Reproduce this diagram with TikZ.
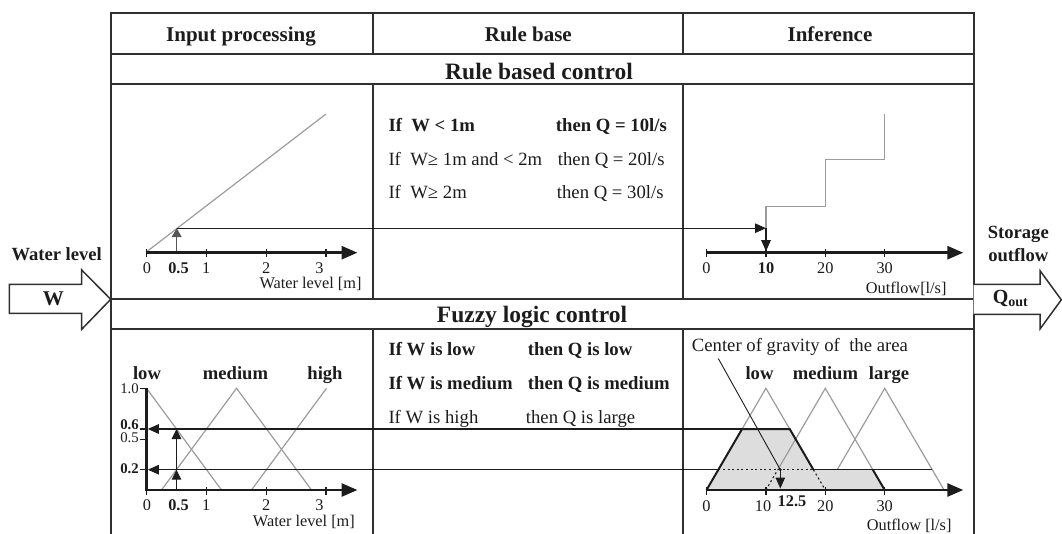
\documentclass[tikz,border=0pt]{standalone}
\usepackage{fontspec}
\setmainfont{Liberation Serif}
\usetikzlibrary{arrows.meta}
\definecolor{ink}{HTML}{1C1C1C}
\definecolor{tblc}{HTML}{303030}
\definecolor{curve}{HTML}{9C9C9C}
\definecolor{fillg}{HTML}{DDDDDD}
\definecolor{darkg}{HTML}{555555}
\tikzset{
  tbl/.style={draw=tblc,line width=1.6pt},
  axisline/.style={draw=ink,line width=2.8pt,-{Triangle[length=16pt,width=13pt]}},
  yaxisline/.style={draw=ink,line width=2.6pt},
  tickmark/.style={draw=ink,line width=1.4pt},
  memb/.style={draw=curve,line width=1.2pt},
  conn/.style={draw=ink,line width=1.1pt},
  connarrow/.style={conn,-{Triangle[length=11pt,width=9.5pt]}},
  dots/.style={draw=ink,line width=1.1pt,dash pattern=on 2pt off 2.6pt},
  txt/.style={inner sep=0pt,text=ink,anchor=base},
  hdr/.style={txt,font=\fontsize{21}{24}\selectfont\bfseries},
  bandtxt/.style={txt,font=\fontsize{23.5}{27}\selectfont\bfseries},
  ruletxt/.style={txt,anchor=base west,font=\fontsize{18.7}{22}\selectfont},
  ruletxtb/.style={ruletxt,font=\fontsize{18.7}{22}\selectfont\bfseries},
  ticklab/.style={txt,font=\fontsize{16.3}{19}\selectfont},
  ticklabb/.style={ticklab,font=\fontsize{16.3}{19}\selectfont\bfseries},
  ylab/.style={txt,anchor=base east,font=\fontsize{14.8}{17}\selectfont},
  ylabb/.style={ylab,font=\fontsize{14.8}{17}\selectfont\bfseries},
  setlab/.style={txt,font=\fontsize{18.6}{21}\selectfont\bfseries},
  bigarrow/.style={draw=tblc,line width=1.5pt,fill=white,line join=miter},
}
\begin{document}
\begin{tikzpicture}[x=1pt,y=-1pt]
\useasboundingbox (0,0) rectangle (1062,534);
% ---------------- table ----------------
\draw[tbl] (111,534) -- (111,13.3) -- (973.7,13.3) -- (973.7,534);
\foreach \yy in {54.3,84.3,299.3,329.3} \draw[tbl] (111,\yy) -- (973.7,\yy);
\foreach \xx in {373,682.7} {
  \draw[tbl] (\xx,13.3) -- (\xx,54.3);
  \draw[tbl] (\xx,84.3) -- (\xx,299.3);
  \draw[tbl] (\xx,329.3) -- (\xx,534);
}
\node[hdr] (h1) at (241,41.5) {Input processing};
\node[hdr] (h2) at (528.3,41.5) {Rule base};
\node[hdr] (h3) at (830,41.5) {Inference};
\node[bandtxt] (b1) at (539,79.5) {Rule based control};
\node[bandtxt] (b2) at (532,322.7) {Fuzzy logic control};
% ---------------- in/out arrows ----------------
\draw[bigarrow] (9.3,284.3) -- (81.7,284.3) -- (81.7,270) -- (110.7,299.3) -- (81.7,329.3) -- (81.7,313.3) -- (9.3,313.3) -- cycle;
\node[setlab] (wl) at (56.7,260.7) {Water level};
\node[txt,font=\fontsize{21}{24}\selectfont\bfseries] (win) at (53.3,305.5) {W};
\draw[bigarrow] (973.7,284.3) -- (1040,284.3) -- (1040,270.7) -- (1061.3,299.8) -- (1040,329) -- (1040,314.3) -- (973.7,314.3);
\node[setlab] (so1) at (1018.3,238.3) {Storage};
\node[setlab] (so2) at (1018.3,261.7) {outflow};
\node[txt,font=\fontsize{20}{24}\selectfont\bfseries] (qout) at (1010.5,303.3) {Q\textsubscript{out}};
% ---------------- upper left ----------------
\draw[memb] (146.7,251.7) -- (326,114);
\foreach \xx in {146.5,206.3,266.2,326} \draw[tickmark] (\xx,249.5) -- (\xx,257.5);
\draw[axisline] (145.5,252.7) -- (357.5,252.7);
\node[ticklab] (ul0) at (147,274) {0};
\node[ticklabb] (ul05) at (178.5,274) {0.5};
\node[ticklab] (ul1) at (206.3,274) {1};
\node[ticklab] (ul2) at (266.2,274) {2};
\node[ticklab] (ul3) at (319.5,274) {3};
\node[ticklab,anchor=base east] (ulx) at (361.7,289) {Water level [m]};
\coordinate (wA) at (176.7,251);
\coordinate (wB) at (176.7,228.2);
\draw[draw=darkg,line width=1.2pt,-{Triangle[length=9pt,width=10pt]}] (wA) -- (wB);
\coordinate (q10) at (766,228.2);
\draw[connarrow] (wB) -- (q10);
% ---------------- upper middle ----------------
\node[ruletxtb] (r1a) at (388.3,132) {If\ \ W < 1m};
\node[ruletxtb] (r1b) at (555.7,132) {then Q = 10l/s};
\node[ruletxt] (r2a) at (388.3,165.7) {If\ \ W≥ 1m and < 2m};
\node[ruletxt] (r2b) at (557.7,165.7) {then Q = 20l/s};
\node[ruletxt] (r3a) at (388.3,199) {If\ \ W≥ 2m};
\node[ruletxt] (r3b) at (556.7,199) {then Q = 30l/s};
% ---------------- upper right ----------------
\draw[memb] (766,228.2) -- (766,206.7) -- (825.3,206.7) -- (825.3,159.3) -- (884.7,159.3) -- (884.7,114);
\foreach \xx in {706.5,766,825.3,884.7} \draw[tickmark] (\xx,249.5) -- (\xx,257.5);
\draw[axisline] (705.5,252.7) -- (963.3,252.7);
\coordinate (q10b) at (766,251.2);
\draw[connarrow] (q10) -- (q10b);
\node[ticklab] (ur0) at (706.5,274) {0};
\node[ticklabb] (ur10) at (766,274) {10};
\node[ticklab] (ur20) at (825.3,274) {20};
\node[ticklab] (ur30) at (884.7,274) {30};
\node[ticklab,anchor=base east] (urx) at (946.7,294) {Outflow[l/s]};
% ---------------- lower left ----------------
\node[setlab] (llow) at (147,379) {low};
\node[setlab] (lmed) at (235.5,379) {medium};
\node[setlab] (lhigh) at (325,379) {high};
\draw[memb] (146.5,388.3) -- (221.5,490);
\draw[memb] (161.5,490) -- (236.5,388.3) -- (311.5,490);
\draw[memb] (251.5,490) -- (326.5,388.3);
\draw[yaxisline] (146.5,491) -- (146.5,388.3);
\foreach \yy in {388.3,429,439.2,469.7} \draw[tickmark] (139.5,\yy) -- (146.5,\yy);
\node[ylab] (y10) at (139,393.5) {1.0};
\node[ylabb] (y06) at (139,429.6) {0.6};
\node[ylab] (y05) at (139,442.3) {0.5};
\node[ylabb] (y02) at (139,473.8) {0.2};
\foreach \xx in {146.5,206.3,266.2,326} \draw[tickmark] (\xx,487) -- (\xx,495);
\draw[axisline] (145.5,490) -- (357.5,490);
\node[ticklab] (ll0) at (147,510.7) {0};
\node[ticklabb] (ll05) at (178.5,510.7) {0.5};
\node[ticklab] (ll1) at (206.3,510.7) {1};
\node[ticklab] (ll2) at (266.2,510.7) {2};
\node[ticklab] (ll3) at (319.5,510.7) {3};
\node[ticklab,anchor=base east] (llx) at (355,526.7) {Water level [m]};
\coordinate (m0) at (176.5,488.5);
\coordinate (m02) at (176.5,469.7);
\coordinate (m06) at (176.5,429);
\draw[conn,-{Triangle[length=10pt,width=9.5pt]}] (m0) -- (m02);
\draw[conn,-{Triangle[length=10pt,width=9.5pt]}] (m02) -- (m06);
% ---------------- lower middle ----------------
\node[ruletxtb] (f1a) at (388.3,355) {If W is low};
\node[ruletxtb] (f1b) at (527.7,355) {then Q is low};
\node[ruletxtb] (f2a) at (388.3,389.3) {If W is medium};
\node[ruletxtb] (f2b) at (527.7,389.3) {then Q is medium};
\node[ruletxt] (f3a) at (388.3,423.3) {If W is high};
\node[ruletxt] (f3b) at (525.7,423.3) {then Q is large};
% ---------------- lower right ----------------
\coordinate (t0) at (706.5,490);
\coordinate (t6) at (742.1,429);
\coordinate (t14) at (789.7,429);
\coordinate (t18) at (813.4,469.7);
\coordinate (t28) at (872.8,469.7);
\coordinate (t30) at (884.7,490);
\fill[fillg] (t0) -- (t6) -- (t14) -- (t18) -- (t28) -- (t30) -- cycle;
% membership triangles
\draw[memb] (t6) -- (765.9,388.3) -- (t14);
\draw[memb] (777.8,469.7) -- (825.3,388.3) -- (t28);
\draw[memb] (837.2,469.7) -- (884.7,388.3) -- (944.1,490);
\draw[dots] (t18) -- (825.3,490);
\draw[dots] (765.9,490) -- (777.8,469.7);
% outline of the area
\draw[draw=ink,line width=2pt,line join=miter] (t0) -- (t6) -- (t14) -- (t18);
\draw[draw=ink,line width=2pt] (t28) -- (t30);
% horizontal connectors from membership degrees
\coordinate (g02l) at (718.4,469.7);
\coordinate (g02tip) at (147.8,469.7);
\coordinate (g06tip) at (147.8,429);
\draw[connarrow] (t14) -- (g06tip);
\draw[connarrow] (g02l) -- (g02tip);
\draw[dots] (g02l) -- (t18);
\draw[conn] (t18) -- (932.2,469.7);
% axis
\foreach \xx in {706.5,765.9,825.3,884.7} \draw[tickmark] (\xx,487) -- (\xx,495);
\draw[axisline] (705.5,490) -- (963.3,490);
% center of gravity
\node[txt,anchor=base west,font=\fontsize{18.7}{22}\selectfont] (cog) at (691.7,351.7) {Center of gravity of\ \ the area};
\coordinate (cogA) at (718.3,358.5);
\coordinate (cogB) at (780.3,469.7);
\coordinate (cogC) at (780.3,488.5);
\draw[draw=ink,line width=0.9pt] (cogA) -- (cogB);
\fill[ink] (cogB) circle (1.6);
\draw[connarrow] (cogB) -- (cogC);
\node[setlab] (rlow) at (759.5,379.3) {low};
\node[setlab] (rmed) at (825.5,379.3) {medium};
\node[setlab] (rlarge) at (889,379.3) {large};
\node[ticklab] (lr0) at (706.5,511.7) {0};
\node[ticklab] (lr10) at (763,511.7) {10};
\node[ticklabb] (lr125) at (792,506) {12.5};
\node[ticklab] (lr20) at (825.3,511.7) {20};
\node[ticklab] (lr30) at (884.7,511.7) {30};
\node[ticklab,anchor=base east] (lrx) at (951.7,530) {Outflow [l/s]};
\end{tikzpicture}
\end{document}
